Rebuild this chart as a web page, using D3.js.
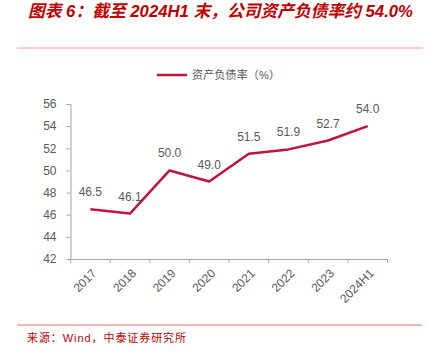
<!DOCTYPE html>
<html><head><meta charset="utf-8">
<script src="https://cdn.jsdelivr.net/npm/d3@7"></script>
<style>body{margin:0;background:#fff}svg{display:block}</style>
</head><body>
<script>
const categories = ["2017","2018","2019","2020","2021","2022","2023","2024H1"];
const values = [46.5,46.1,50.0,49.0,51.5,51.9,52.7,54.0];
const yTicks = [42,44,46,48,50,52,54,56];
const title = "图表 6：截至 2024H1 末，公司资产负债率约 54.0%";
const seriesName = "资产负债率（%）";
const source = "来源：Wind，中泰证券研究所";

const W = 428, H = 356;
const svg = d3.select("body").append("svg").attr("width", W).attr("height", H);
const font = "'Liberation Sans', Arial, 'Noto Sans CJK SC', sans-serif";
const red = "#C00000", lineColor = "#C0143C", gray = "#595959";

svg.append("text").attr("x", 28).attr("y", 17).attr("fill", red)
  .attr("font-family", font).attr("font-size", 17).attr("font-weight", "bold")
  .attr("font-style", "italic").attr("textLength", 385).attr("lengthAdjust", "spacingAndGlyphs")
  .text(title);
svg.append("line").attr("x1", 17).attr("x2", 423).attr("y1", 48).attr("y2", 48)
  .attr("stroke", "#EE9A9A").attr("stroke-width", 1);

// legend
svg.append("line").attr("x1", 157).attr("x2", 187).attr("y1", 75).attr("y2", 75)
  .attr("stroke", lineColor).attr("stroke-width", 2.5);
svg.append("text").attr("x", 192).attr("y", 79).attr("fill", gray)
  .attr("font-family", font).attr("font-size", 11).attr("textLength", 88)
  .attr("lengthAdjust", "spacing").text(seriesName);

const x = d3.scaleBand().domain(categories).range([70.5, 387.5]);
const y = d3.scaleLinear().domain([42, 56]).range([259, 104]);

const gy = svg.append("g").attr("transform", "translate(70.5,0)")
  .call(d3.axisLeft(y).tickValues(yTicks).tickSize(4).tickPadding(10).tickFormat(d3.format("d")));
const gx = svg.append("g").attr("transform", "translate(0,259)")
  .call(d3.axisBottom(x).tickSize(0).tickFormat(""));
// boundary ticks
gx.selectAll(".bt").data(categories.concat(["__end"])).enter().append("line")
  .attr("x1", (d,i) => 70.5 + i * x.step()).attr("x2", (d,i) => 70.5 + i * x.step())
  .attr("y1", 0).attr("y2", 4).attr("stroke", "#A6A6A6");
gx.selectAll(".lbl").data(categories).enter().append("text")
  .attr("transform", d => `translate(${x(d) + x.bandwidth()/2 + 4},${12}) rotate(-45)`)
  .attr("text-anchor", "end").attr("fill", gray).attr("font-family", font).attr("font-size", 12)
  .attr("dy", "0.35em").text(d => d);

[gy, gx].forEach(g => {
  g.select(".domain").attr("stroke", "#A6A6A6");
  g.selectAll(".tick line").attr("stroke", "#A6A6A6");
  g.selectAll(".tick text").attr("fill", gray).attr("font-family", font).attr("font-size", 12);
});

const line = d3.line().x((d,i) => x(categories[i]) + x.bandwidth()/2).y(d => y(d));
svg.append("path").datum(values).attr("d", line).attr("fill", "none")
  .attr("stroke", lineColor).attr("stroke-width", 2.5).attr("stroke-linejoin", "round");

svg.selectAll(".dl").data(values).enter().append("text")
  .attr("x", (d,i) => x(categories[i]) + x.bandwidth()/2)
  .attr("y", d => y(d) - 13).attr("text-anchor", "middle").attr("fill", gray)
  .attr("font-family", font).attr("font-size", 12).text(d => d.toFixed(1));

svg.append("line").attr("x1", 17).attr("x2", 422).attr("y1", 325).attr("y2", 325)
  .attr("stroke", "#E07070").attr("stroke-width", 1);
svg.append("text").attr("x", 27).attr("y", 342).attr("fill", red)
  .attr("font-family", font).attr("font-size", 11).attr("textLength", 159)
  .attr("lengthAdjust", "spacing").text(source);
</script>
</body></html>
